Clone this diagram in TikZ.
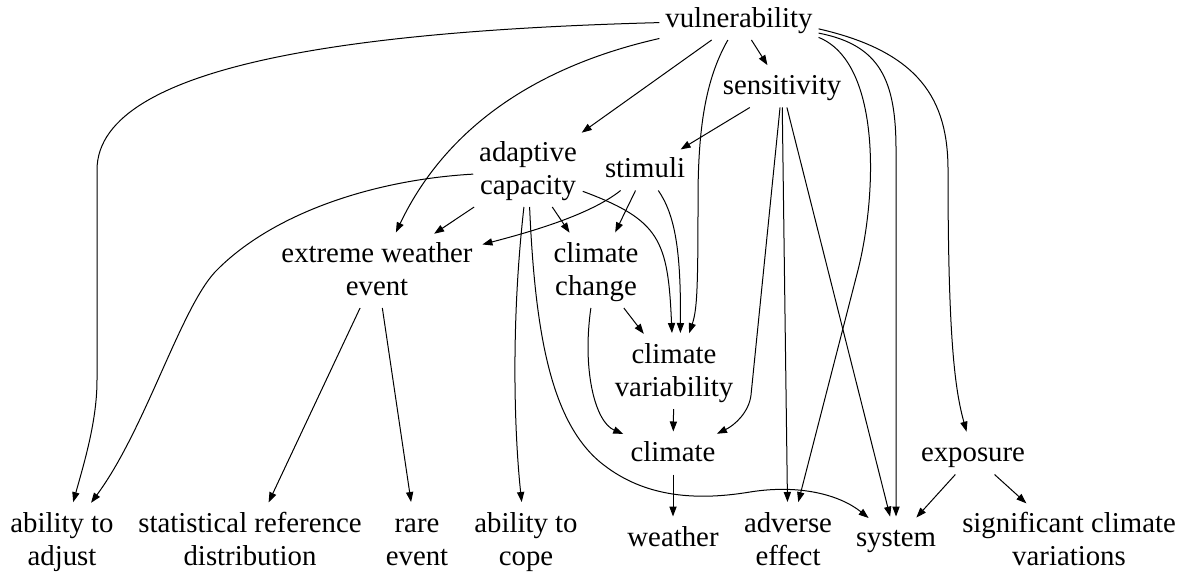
\documentclass[tikz,border=0pt]{standalone}
\usepackage{fontspec}
\setmainfont{Liberation Serif}
\usetikzlibrary{arrows.meta}
\tikzset{
  nd/.style={font=\fontsize{14.4bp}{16.5bp}\selectfont, align=center, inner xsep=3bp, inner ysep=1.5bp, outer sep=0pt},
  ed/.style={line width=0.5bp, -{Triangle[length=5bp,width=3.6bp]}, shorten >=2bp},
}
\begin{document}
\begin{tikzpicture}[x=0.5bp,y=-0.5bp]
\useasboundingbox (0,0) rectangle (1186,574);
% nodes
\node[nd] (vuln) at (739,20.5) {vulnerability\strut};
\node[nd] (sens) at (782,88) {sensitivity\strut};
\node[nd] (ac) at (528,171) {adaptive\strut\\capacity\strut};
\node[nd] (stim) at (645,171) {stimuli\strut};
\node[nd] (ewe) at (377,272) {extreme weather\strut\\event\strut};
\node[nd] (cc) at (596,272) {climate\strut\\change\strut};
\node[nd] (cv) at (674,373) {climate\strut\\variability\strut};
\node[nd] (clim) at (673,455) {climate\strut};
\node[nd] (expo) at (973,455) {exposure\strut};
\node[nd] (aadj) at (62,542) {ability to\strut\\adjust\strut};
\node[nd] (srd) at (250,542) {statistical reference\strut\\distribution\strut};
\node[nd] (rare) at (417,542) {rare\strut\\event\strut};
\node[nd] (acope) at (526,542) {ability to\strut\\cope\strut};
\node[nd] (weather) at (673,540) {weather\strut};
\node[nd] (adv) at (788,542) {adverse\strut\\effect\strut};
\node[nd] (sys) at (896,540) {system\strut};
\node[nd] (sig) at (1069,542) {significant climate\strut\\variations\strut};
% vulnerability
\draw[ed] (vuln) .. controls (380,30) and (97,60) .. (97,170) -- (97,380) .. controls (97,420) and (85,460) .. (aadj);
\draw[ed] (vuln) .. controls (520,70) and (440,140) .. (ewe);
\draw[ed] (vuln) -- (ac);
\draw[ed] (vuln) .. controls (705,80) and (698,130) .. (698,200) .. controls (698,290) and (697,310) .. (cv.69);
\draw[ed] (vuln) -- (sens);
\draw[ed] (vuln.-12) .. controls (880,62) and (878,190) .. (858,270) -- (adv);
\draw[ed] (vuln.-9) .. controls (880,45) and (896,80) .. (896,150) -- (sys);
\draw[ed] (vuln.-6) .. controls (920,52) and (948,100) .. (948,170) .. controls (948,340) and (955,390) .. (expo);
% sensitivity
\draw[ed] (sens) -- (stim);
\draw[ed] (sens) -- (751,395) .. controls (749,412) and (735,425) .. (clim);
\draw[ed] (sens) -- (adv);
\draw[ed] (sens) -- (sys);
% adaptive capacity
\draw[ed] (ac) .. controls (370,180) and (270,215) .. (215,272) .. controls (180,310) and (145,430) .. (aadj);
\draw[ed] (ac) -- (ewe);
\draw[ed] (ac) -- (cc);
\draw[ed] (ac) .. controls (660,220) and (668,240) .. (cv.93);
\draw[ed] (ac) .. controls (510,330) and (515,440) .. (acope);
\draw[ed] (ac) .. controls (535,330) and (550,420) .. (600,462) .. controls (640,495) and (690,502) .. (750,492) .. controls (800,484) and (840,495) .. (sys);
% stimuli
\draw[ed] (stim) .. controls (590,215) and (530,232) .. (ewe);
\draw[ed] (stim) -- (cc);
\draw[ed] (stim) .. controls (675,215) and (681,250) .. (cv.80);
% others
\draw[ed] (ewe) -- (srd);
\draw[ed] (ewe) -- (rare);
\draw[ed] (cc) -- (cv);
\draw[ed] (cc) .. controls (582,370) and (595,422) .. (clim);
\draw[ed] (cv) -- (clim);
\draw[ed] (clim) -- (weather);
\draw[ed] (expo) -- (sys);
\draw[ed] (expo) -- (sig);
\end{tikzpicture}
\end{document}
